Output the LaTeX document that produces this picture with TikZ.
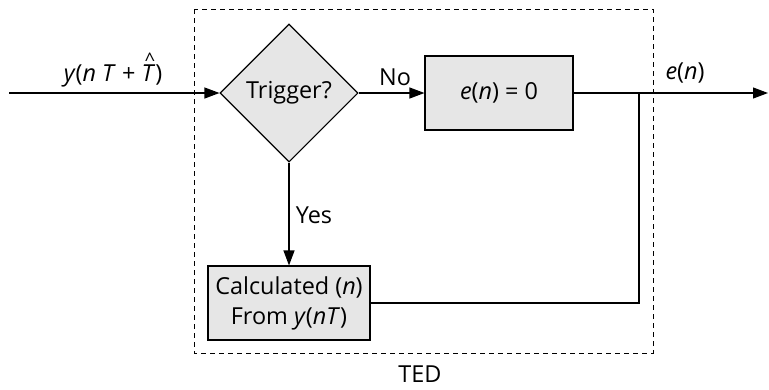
\documentclass[tikz,border=0pt]{standalone}
\usepackage{fontspec}
\setmainfont{Open Sans}
\usetikzlibrary{shapes.geometric,arrows.meta}
\definecolor{boxgray}{HTML}{E6E6E6}
\newcommand{\hatT}{\makebox[0pt][l]{\raisebox{0.66em}{\hspace{0.14em}\scalebox{0.8}{\textasciicircum}}}\textit{T}}
\begin{document}
\begin{tikzpicture}[x=1bp,y=-1bp,
  every node/.style={font=\fontsize{23.5}{30}\selectfont},
  conn/.style={line width=1.1bp},
  arr/.style={conn,-{Triangle[length=15bp,width=11bp]}},
  blockbox/.style={draw,line width=1.1bp,fill=boxgray,inner sep=0pt,align=center},
  lbl/.style={inner sep=0pt}]
\useasboundingbox (0,0) rectangle (769,389);
\draw[line width=1bp,dash pattern=on 5bp off 4bp] (194,9) rectangle (653,353);
\node[lbl] (ted) at (420,374) {TED};
\coordinate (in) at (9,93);
\node[draw,diamond,line width=1.1bp,fill=boxgray,minimum width=138bp,minimum height=138bp,inner sep=0pt] (trig) at (289,93) {Trigger?};
\node[blockbox,minimum width=148bp,minimum height=74bp] (zero) at (499,93) {\textit{e}(\textit{n}) = 0};
\node[blockbox,minimum width=162bp,minimum height=74bp] (calc) at (289,303) {Calculated (\textit{n})\\From \textit{y}(\textit{nT})};
\coordinate (junc) at (639,93);
\coordinate (out) at (768,93);
\coordinate (corner) at (639,303);
\draw[arr] (in) -- (trig.west);
\draw[arr] (trig.east) -- (zero.west);
\draw[arr] (trig.south) -- (calc.north);
\draw[conn] (zero.east) -- (junc);
\draw[arr] (junc) -- (out);
\draw[conn] (calc.east) -- (corner) -- (junc);
\node[lbl] (inl) at (113,70) {\textit{y}(\textit{n T} + \hatT)};
\node[lbl] (nol) at (395,77) {No};
\node[lbl] (yesl) at (314,215) {Yes};
\node[lbl] (outl) at (685,73) {\textit{e}(\textit{n})};
\end{tikzpicture}
\end{document}
